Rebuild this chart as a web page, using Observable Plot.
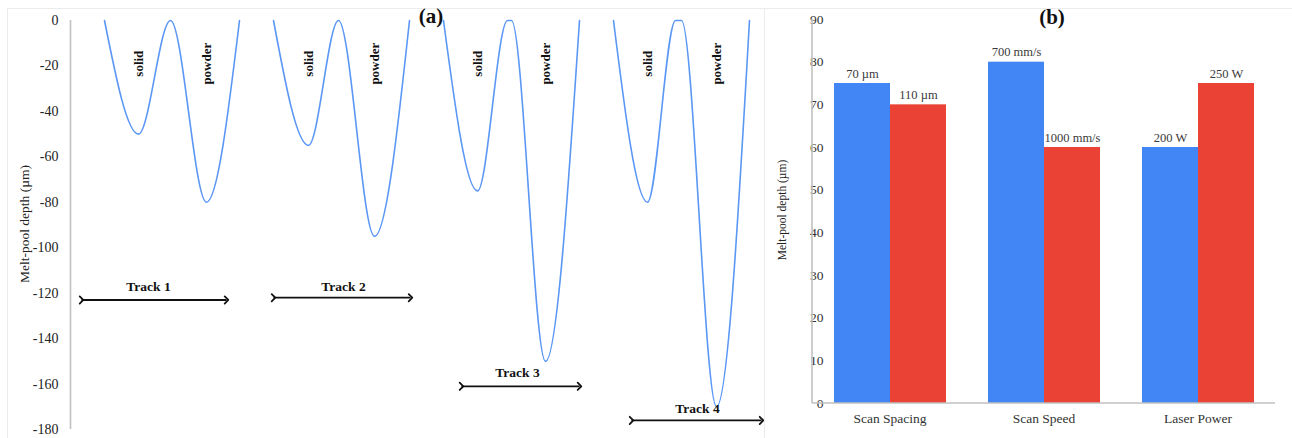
<!DOCTYPE html>
<html>
<head>
<meta charset="utf-8">
<script src="https://cdn.jsdelivr.net/npm/d3@7"></script>
<script src="https://cdn.jsdelivr.net/npm/@observablehq/plot@0.6"></script>
<style>
  body { margin: 0; background: #fff; }
  #wrap { position: relative; width: 1292px; height: 438px; overflow: hidden; font-family: "Liberation Serif", serif; }
  #wrap svg, #wrap svg text { font-family: "Liberation Serif", serif !important; }
  .panel { position: absolute; top: 0; }
  .tag { position: absolute; font-weight: bold; font-size: 21px; color: #111; transform: translate(-50%, -50%); white-space: nowrap; }
  .ylab { position: absolute; color: #222; white-space: nowrap; transform: translate(-50%, -50%) rotate(-90deg); }
  .border { position: absolute; border: 1px solid #ececec; box-sizing: border-box; }
</style>
</head>
<body>
<div id="wrap">
  <div class="border" style="left:7px;top:8px;width:758px;height:440px;"></div>
  <div class="border" style="left:764px;top:8px;width:540px;height:440px;"></div>
  <div id="pa" class="panel" style="left:0px;"></div>
  <div id="pb" class="panel" style="left:764px;"></div>
  <div class="tag" style="left:431px;top:16px;">(a)</div>
  <div class="tag" style="left:1052px;top:17px;">(b)</div>
  <div class="ylab" style="left:25px;top:224px;font-size:13.5px;">Melt-pool depth (µm)</div>
  <div class="ylab" style="left:782px;top:210px;font-size:11.5px;">Melt-pool depth (µm)</div>
</div>
<script>
// ---------- Panel (a): melt-pool depth profiles ----------
const tracks = ["Track 1", "Track 2", "Track 3", "Track 4"];
const trackStartX = [34, 203, 373, 543];
const solidMinX   = [68, 238, 407, 577];
const solidDepth  = [-50, -55, -75, -80];
const peakStartX  = [100, 268, 437, 605];
const peakEndX    = [100, 268, 441, 611];
const powderMinX  = [136, 304, 475, 646];
const powderDepth = [-80, -95, -150, -170];
const trackEndX   = [169, 339, 509, 679];
const regionLabelDepth = -19;
const arrowX1 = [11, 203, 391, 561];
const arrowX2 = [156, 340, 509, 691];
const arrowY  = [-123, -122, -161, -176];
const trackLabelX = [78, 273, 447, 627];
const trackLabelY = [-117, -117, -155, -171];
const yTicksA = [0, -20, -40, -60, -80, -100, -120, -140, -160, -180];

// ---------- Panel (b): grouped bars ----------
const categories = ["Scan Spacing", "Scan Speed", "Laser Power"];
const series = ["Lower setting", "Higher setting"];
const lowerValues = [75, 80, 60];
const higherValues = [70, 60, 75];
const lowerLabels = ["70 µm", "700 mm/s", "200 W"];
const higherLabels = ["110 µm", "1000 mm/s", "250 W"];
const yTicksB = [0, 10, 20, 30, 40, 50, 60, 70, 80, 90];

const curvePoints = tracks.flatMap((t, i) => {
  const pts = [[trackStartX[i], 0], [solidMinX[i], solidDepth[i]], [peakStartX[i], 0]];
  if (peakEndX[i] !== peakStartX[i]) pts.push([peakEndX[i], 0]);
  pts.push([powderMinX[i], powderDepth[i]], [trackEndX[i], 0]);
  return pts.map(([x, y]) => ({track: t, x, y}));
});
const regionLabels = tracks.flatMap((t, i) => [
  {x: solidMinX[i], y: regionLabelDepth, text: "solid"},
  {x: powderMinX[i], y: regionLabelDepth, text: "powder"}
]);
const arrows = tracks.map((t, i) => ({track: t, x1: arrowX1[i], x2: arrowX2[i], y: arrowY[i]}));
const trackLabels = tracks.map((t, i) => ({text: t, x: trackLabelX[i], y: trackLabelY[i]}));

const chartA = Plot.plot({
  width: 764, height: 438,
  marginLeft: 70, marginRight: 0, marginTop: 20, marginBottom: 9,
  style: {fontFamily: "Liberation Serif", fontSize: "14px", color: "#222", background: "transparent"},
  x: {domain: [0, 694], axis: null},
  y: {domain: [-180, 0], ticks: yTicksA, tickSize: 0, tickPadding: 12, tickFormat: d => String(d), label: null},
  marks: [
    Plot.ruleX([0], {stroke: "#c0c0c0", strokeWidth: 1.6}),
    Plot.line(curvePoints, {x: "x", y: "y", z: "track", curve: "monotone-x", stroke: "#5b97f4", strokeWidth: 1.6}),
    Plot.text(regionLabels, {x: "x", y: "y", text: "text", rotate: -90, fontWeight: "bold", fontSize: 13, fill: "#111"}),
    Plot.link(arrows, {x1: "x1", x2: "x2", y1: "y", y2: "y", stroke: "#111", strokeWidth: 1.8, markerStart: "arrow", markerEnd: "arrow"}),
    Plot.text(trackLabels, {x: "x", y: "y", text: "text", fontWeight: "bold", fontSize: 13.5, fill: "#111"})
  ]
});
document.getElementById("pa").append(chartA);

const bars = categories.flatMap((c, i) => [
  {cat: c, series: series[0], value: lowerValues[i], label: lowerLabels[i]},
  {cat: c, series: series[1], value: higherValues[i], label: higherLabels[i]}
]);

const mL = 48, mR = 17, mT = 19, mB = 35, W = 528, H = 438;
const chartB = Plot.plot({
  width: W, height: H,
  marginLeft: mL, marginRight: mR, marginTop: mT, marginBottom: mB,
  style: {fontFamily: "Liberation Serif", fontSize: "13.5px", color: "#333", background: "transparent"},
  fx: {domain: categories, paddingInner: 0.266, paddingOuter: 0.133, axis: "bottom", tickSize: 0, tickPadding: 10, label: null},
  x: {domain: series, padding: 0, axis: null},
  y: {domain: [0, 90], ticks: yTicksB, tickSize: 0, tickPadding: 10, label: null},
  color: {domain: series, range: ["#4285f4", "#ea4335"]},
  marks: [
    Plot.barY(bars, {fx: "cat", x: "series", y: "value", fill: "series"}),
    Plot.text(bars, {fx: "cat", x: "series", y: "value", text: "label", dy: -10, fontSize: 12.5, fill: "#3a3a3a"})
  ]
});
// axis lines spanning the whole plot area, positioned with the library's y scale
{
  const ys = chartB.scale("y");
  const svg = d3.select(chartB.tagName.toLowerCase() === "svg" ? chartB : chartB.querySelector("svg"));
  svg.append("line").attr("x1", mL).attr("x2", mL).attr("y1", ys.apply(90)).attr("y2", ys.apply(0))
    .attr("stroke", "#c0c0c0").attr("stroke-width", 1.6);
  svg.append("line").attr("x1", mL).attr("x2", W - mR).attr("y1", ys.apply(0)).attr("y2", ys.apply(0))
    .attr("stroke", "#c0c0c0").attr("stroke-width", 1.6);
}
document.getElementById("pb").append(chartB);
</script>
</body>
</html>
